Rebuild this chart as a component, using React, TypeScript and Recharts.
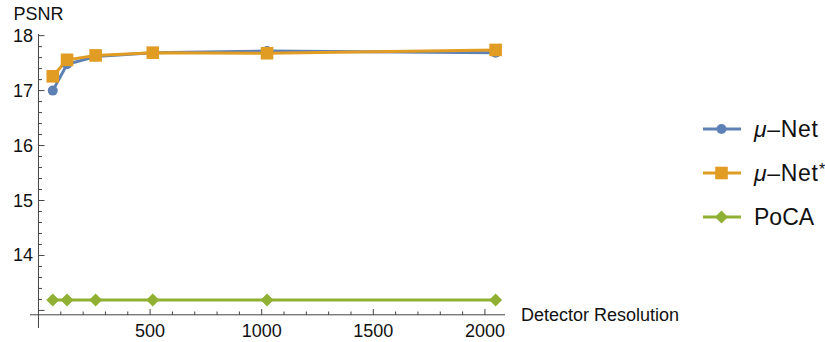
import { LineChart, Line, XAxis, YAxis, ReferenceLine, Legend } from 'recharts'

// detector resolution (x) and PSNR per method
const resolutions = [64, 128, 256, 512, 1024, 2048]
const muNet = [17.0, 17.48, 17.62, 17.69, 17.72, 17.69]
const muNetStar = [17.26, 17.56, 17.64, 17.69, 17.68, 17.74]
const poca = [13.19, 13.19, 13.19, 13.19, 13.19, 13.19]

const xTicks = Array.from({ length: 20 }, (_, i) => (i + 1) * 100)
const yTicks = Array.from({ length: 26 }, (_, i) => Math.round((13 + i * 0.2) * 10) / 10)
const xLabelTicks = [500, 1000, 1500, 2000]
const yLabelTicks = [14, 15, 16, 17, 18]

const data = resolutions.map((x, i) => ({ x, muNet: muNet[i], muNetStar: muNetStar[i], poca: poca[i] }))

const BLUE = '#5e81b5'
const ORANGE = '#e19c24'
const GREEN = '#8fb032'
const AXIS = '#444'
const FONT = '"Liberation Sans", Arial, sans-serif'
const X_ORIGIN_Y = 12.92

const CircleDot = ({ cx, cy }: any) => <circle cx={cx} cy={cy} r={5} fill={BLUE} />
const SquareDot = ({ cx, cy }: any) => <rect x={cx - 6.3} y={cy - 6.3} width={12.6} height={12.6} fill={ORANGE} />
const DiamondDot = ({ cx, cy }: any) => (
  <polygon points={`${cx},${cy - 6.5} ${cx + 6.5},${cy} ${cx},${cy + 6.5} ${cx - 6.5},${cy}`} fill={GREEN} />
)

// axis line sits 13px above the bottom of the axis band (crossing at y = 12.92)
const XTick = ({ x, y, payload }: any) => {
  const ay = y - 13
  const major = xLabelTicks.includes(payload.value)
  return (
    <g>
      <line x1={x} x2={x} y1={ay} y2={ay - (major ? 6 : 3.5)} stroke={AXIS} />
      {major && (
        <text x={x} y={ay + 22} textAnchor="middle" fontSize={18} fontFamily={FONT} fill="#111">
          {payload.value}
        </text>
      )}
    </g>
  )
}

const YTick = ({ x, y, payload }: any) => {
  const ax = x + 8.5
  const major = Number.isInteger(payload.value)
  return (
    <g>
      <line x1={ax} x2={ax + (major ? 6 : 3.5)} y1={y} y2={y} stroke={AXIS} />
      {yLabelTicks.includes(payload.value) && (
        <text x={ax - 5.5} y={y + 6} textAnchor="end" fontSize={18} fontFamily={FONT} fill="#111">
          {payload.value}
        </text>
      )}
    </g>
  )
}

const legendItems = [
  { key: 'muNet', color: BLUE, shape: 'circle', greek: true, star: false, label: 'PoCA' },
  { key: 'muNetStar', color: ORANGE, shape: 'square', greek: true, star: true, label: 'PoCA' },
  { key: 'poca', color: GREEN, shape: 'diamond', greek: false, star: false, label: 'PoCA' },
]

const renderLegend = () => (
  <div>
    {legendItems.map((it) => (
      <svg key={it.key} width={122} height={44} style={{ display: 'block' }}>
        <line x1={0} x2={38} y1={22} y2={22} stroke={it.color} strokeWidth={3} />
        {it.shape === 'circle' && <circle cx={18.5} cy={22} r={5} fill={it.color} />}
        {it.shape === 'square' && <rect x={12.2} y={15.7} width={12.6} height={12.6} fill={it.color} />}
        {it.shape === 'diamond' && <polygon points="18.5,15.5 25,22 18.5,28.5 12,22" fill={it.color} />}
        {it.greek ? (
          <text x={51} y={30} fontSize={23} fontFamily={FONT} fill="#111" textLength={64} lengthAdjust="spacing">
            <tspan fontStyle="italic">μ</tspan>–Net
          </text>
        ) : (
          <text x={51} y={30} fontSize={23} fontFamily={FONT} fill="#111">
            {it.label}
          </text>
        )}
        {it.star && (
          <text x={116} y={24} fontSize={16} fontFamily={FONT} fill="#111">
            *
          </text>
        )}
      </svg>
    ))}
  </div>
)

const PsnrLabel = ({ viewBox }: any) => (
  <text x={viewBox.x} y={viewBox.y - 14} textAnchor="middle" fontSize={18} fontFamily={FONT} fill="#111">
    PSNR
  </text>
)

const XTitle = ({ viewBox }: any) => (
  <text x={viewBox.x + viewBox.width + 16} y={viewBox.y + 6.5} fontSize={18} fontFamily={FONT} fill="#111">
    Detector Resolution
  </text>
)

export default function App() {
  return (
    <div style={{ position: 'absolute', left: 0, top: 0, width: 825, height: 342, background: '#fff', overflow: 'hidden' }}>
      <LineChart width={825} height={342} data={data} margin={{ top: 34, right: 320, bottom: 0, left: 0 }}>
        <XAxis
          dataKey="x"
          type="number"
          domain={[-38, 2090]}
          allowDataOverflow
          ticks={xTicks}
          interval={0}
          axisLine={false}
          tickLine={false}
          tickSize={0}
          tickMargin={0}
          height={14}
          tick={XTick}
        />
        <YAxis
          type="number"
          domain={[12.68, 18.03]}
          allowDataOverflow
          ticks={yTicks}
          interval={0}
          axisLine={false}
          tickLine={false}
          tickSize={0}
          tickMargin={0}
          width={30}
          tick={YTick}
        />
        <ReferenceLine x={0} stroke={AXIS} strokeWidth={1} label={PsnrLabel} />
        <ReferenceLine y={X_ORIGIN_Y} stroke={AXIS} strokeWidth={1} label={XTitle} />
        <Legend
          layout="vertical"
          align="center"
          verticalAlign="middle"
          content={renderLegend}
          wrapperStyle={{ left: 703, top: 107, width: 122, overflow: 'hidden' }}
        />
        <Line dataKey="muNet" stroke={BLUE} strokeWidth={3} dot={CircleDot} isAnimationActive={false} />
        <Line dataKey="muNetStar" stroke={ORANGE} strokeWidth={3} dot={SquareDot} isAnimationActive={false} />
        <Line dataKey="poca" stroke={GREEN} strokeWidth={3} dot={DiamondDot} isAnimationActive={false} />
      </LineChart>
    </div>
  )
}
